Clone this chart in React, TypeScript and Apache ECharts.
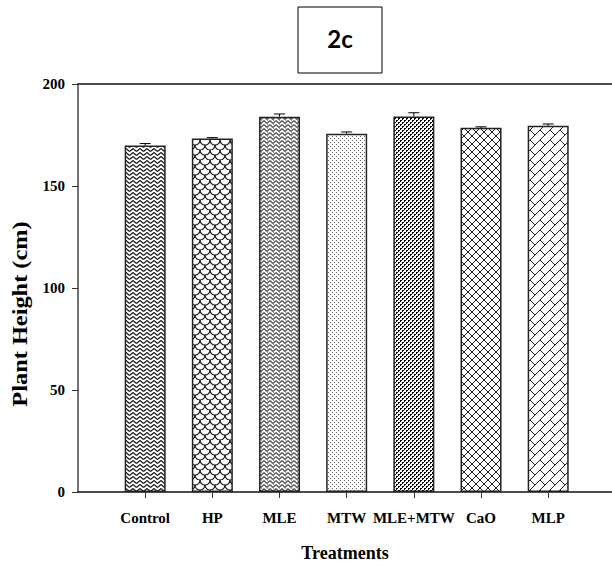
import React, { useEffect, useRef } from "react";
import * as echarts from "echarts";

const categories = ["Control", "HP", "MLE", "MTW", "MLE+MTW", "CaO", "MLP"];
const heights = [169.8, 173.3, 184.0, 175.6, 184.1, 178.5, 179.5];
const errors = [1.0, 0.4, 1.3, 0.9, 1.8, 0.5, 0.9];
const yTicks = [0, 50, 100, 150, 200];
const panelLabel = "2c";
const xTitle = "Treatments";
const yTitle = "Plant Height (cm)";

type Drawer = (ctx: CanvasRenderingContext2D, w: number, h: number) => void;

function lineWrap(ctx: CanvasRenderingContext2D, w: number, h: number, segs: number[][]) {
  for (const [x1, y1, x2, y2] of segs) {
    for (let dx = -1; dx <= 1; dx++) {
      for (let dy = -1; dy <= 1; dy++) {
        ctx.beginPath();
        ctx.moveTo(x1 + dx * w, y1 + dy * h);
        ctx.lineTo(x2 + dx * w, y2 + dy * h);
        ctx.stroke();
      }
    }
  }
}

const patternDefs: { w: number; h: number; draw: Drawer }[] = [
  // Control: zigzag rows
  {
    w: 7, h: 4,
    draw: (ctx, w, h) => {
      ctx.strokeStyle = "#111"; ctx.lineWidth = 1.1;
      lineWrap(ctx, w, h, [[0, 0.5, 3.5, 3.5], [3.5, 3.5, 7, 0.5]]);
    },
  },
  // HP: scale / S waves
  {
    w: 10, h: 10,
    draw: (ctx) => {
      ctx.strokeStyle = "#111"; ctx.lineWidth = 1.1;
      const arcs = [[5, 0], [0, 5], [10, 5], [5, 10], [-5, 0], [15, 0], [5, -10]];
      for (const [cx, cy] of arcs) {
        ctx.beginPath();
        ctx.arc(cx, cy, 5, 0, Math.PI);
        ctx.stroke();
      }
    },
  },
  // MLE: grey dense zigzag weave
  {
    w: 6, h: 4,
    draw: (ctx, w, h) => {
      ctx.strokeStyle = "#555"; ctx.lineWidth = 1.3;
      lineWrap(ctx, w, h, [[0, 0.5, 3, 3.5], [3, 3.5, 6, 0.5]]);
      ctx.fillStyle = "#999";
      ctx.fillRect(3, 0, 1, 1);
    },
  },
  // MTW: sparse grey dots
  {
    w: 4, h: 4,
    draw: (ctx) => {
      ctx.fillStyle = "#666";
      ctx.fillRect(0, 0, 1, 1);
      ctx.fillRect(2, 2, 1, 1);
    },
  },
  // MLE+MTW: dense black dashes
  {
    w: 4, h: 4,
    draw: (ctx) => {
      ctx.fillStyle = "#000";
      ctx.fillRect(0, 0, 2, 1);
      ctx.fillRect(0, 1, 1, 1);
      ctx.fillRect(2, 2, 2, 1);
      ctx.fillRect(2, 3, 1, 1);
    },
  },
  // CaO: diamond lattice
  {
    w: 8, h: 8,
    draw: (ctx, w, h) => {
      ctx.strokeStyle = "#222"; ctx.lineWidth = 1;
      lineWrap(ctx, w, h, [[0, 0, 8, 8], [8, 0, 0, 8]]);
    },
  },
  // MLP: herringbone
  {
    w: 10, h: 10,
    draw: (ctx, w, h) => {
      ctx.strokeStyle = "#222"; ctx.lineWidth = 1;
      lineWrap(ctx, w, h, [[0, 10, 10, 0], [0, 0, 5, 5]]);
    },
  },
];

function makePattern(i: number) {
  const def = patternDefs[i % patternDefs.length];
  const c = document.createElement("canvas");
  c.width = def.w;
  c.height = def.h;
  const ctx = c.getContext("2d")!;
  ctx.fillStyle = "#fff";
  ctx.fillRect(0, 0, def.w, def.h);
  def.draw(ctx, def.w, def.h);
  return {
    image: c.toDataURL("image/png"),
    repeat: "repeat",
    imageWidth: def.w,
    imageHeight: def.h,
  } as any;
}

export default function App() {
  const ref = useRef<HTMLDivElement>(null);

  useEffect(() => {
    if (!ref.current) return;
    const chart = echarts.init(ref.current, null, { renderer: "svg" });
    const serif = "'Liberation Serif', 'Times New Roman', serif";
    const idx = categories.map((_, i) => i);

    const barData = heights.map((v, i) => ({
      value: [i, v],
      itemStyle: { color: makePattern(i) },
    }));
    const errData = heights.map((v, i) => [i, v, errors[i]]);

    chart.setOption({
      animation: false,
      backgroundColor: "#fff",
      grid: { left: 78, right: 0, top: 84, bottom: 71, containLabel: false },
      xAxis: [
        {
          type: "value",
          min: -1,
          max: 6.95,
          position: "bottom",
          axisLine: { show: true, onZero: false, lineStyle: { color: "#111", width: 1.5 } },
          axisTick: { show: true, customValues: idx, length: 6, lineStyle: { color: "#333", width: 1 } },
          axisLabel: {
            customValues: idx,
            formatter: (v: number) => categories[Math.round(v)] ?? "",
            color: "#000",
            fontFamily: serif,
            fontWeight: "bold",
            fontSize: 15,
            margin: 18,
          },
          splitLine: { show: false },
          name: xTitle,
          nameLocation: "middle",
          nameGap: 52,
          nameTextStyle: { fontFamily: serif, fontWeight: "bold", fontSize: 18, color: "#000" },
        },
        {
          type: "value",
          min: -1,
          max: 6.95,
          position: "top",
          axisLine: { show: true, onZero: false, lineStyle: { color: "#111", width: 1.5 } },
          axisTick: { show: false },
          axisLabel: { show: false },
          splitLine: { show: false },
        },
      ],
      yAxis: {
        type: "value",
        min: yTicks[0],
        max: yTicks[yTicks.length - 1],
        interval: 50,
        axisLine: { show: true, onZero: false, lineStyle: { color: "#444", width: 1.5 } },
        axisTick: { show: true, length: 6, lineStyle: { color: "#333", width: 1 } },
        axisLabel: {
          color: "#000",
          fontFamily: serif,
          fontWeight: "bold",
          fontSize: 15,
          margin: 13,
        },
        splitLine: { show: false },
      },
      series: [
        {
          type: "bar",
          xAxisIndex: 0,
          data: barData,
          barWidth: 41,
          itemStyle: { borderColor: "#222", borderWidth: 1.5 },
        },
        {
          type: "custom",
          xAxisIndex: 0,
          data: errData,
          encode: { x: 0, y: 1 },
          clip: false,
          z: 5,
          renderItem: (params: any, api: any) => {
            const x = api.value(0);
            const v = api.value(1);
            const e = api.value(2);
            const base = api.coord([x, v]);
            const top = api.coord([x, v + e]);
            const st = { stroke: "#000", lineWidth: 1 };
            return {
              type: "group",
              children: [
                { type: "line", shape: { x1: base[0], y1: base[1], x2: top[0], y2: top[1] }, style: st },
                { type: "line", shape: { x1: top[0] - 5.5, y1: top[1], x2: top[0] + 5.5, y2: top[1] }, style: st },
              ],
            };
          },
        },
      ],
      graphic: [
        {
          type: "rect",
          shape: { x: 298, y: 7, width: 84, height: 66 },
          style: { fill: "#fff", stroke: "#000", lineWidth: 1 },
        },
        {
          type: "text",
          x: 340,
          y: 38,
          style: {
            text: panelLabel,
            fill: "#000",
            font: "bold 24px Lato, 'Open Sans', sans-serif",
            align: "center",
            verticalAlign: "middle",
          },
        },
        {
          type: "text",
          x: 20,
          y: 314,
          rotation: Math.PI / 2,
          scaleX: 1.16,
          style: {
            text: yTitle,
            fill: "#000",
            font: "bold 21px 'Liberation Serif', serif",
            align: "center",
            verticalAlign: "middle",
          },
        },
      ],
    });

    return () => chart.dispose();
  }, []);

  return (
    <div
      ref={ref}
      style={{ position: "absolute", left: 0, top: 0, width: 612, height: 567 }}
    />
  );
}
